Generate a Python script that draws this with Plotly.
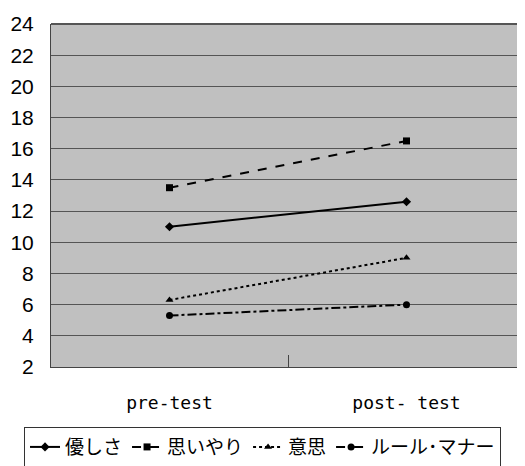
import plotly.graph_objects as go

categories = ["pre-test", "post- test"]
series_names = ["優しさ", "思いやり", "意思", "ルール･マナー"]
yasashisa = [11.0, 12.6]
omoiyari = [13.5, 16.5]
ishi = [6.3, 9.0]
rule_manner = [5.3, 6.0]
y_ticks = list(range(2, 25, 2))

series_values = [yasashisa, omoiyari, ishi, rule_manner]
dashes = ["solid", "dash", "dot", "dashdot"]
symbols = ["diamond", "square", "triangle-up", "circle"]

fig = go.Figure()
for name, vals, dash, sym in zip(series_names, series_values, dashes, symbols):
    fig.add_trace(go.Scatter(
        x=categories, y=vals, name=name, mode="lines+markers",
        line=dict(color="black", width=2, dash=dash),
        marker=dict(symbol=sym, size=7, color="black"),
    ))

# page body has an 8px margin in the browser, so the figure is 8px smaller
fig.update_layout(
    width=517, height=458,
    margin=dict(l=43, r=0, t=16, b=99, autoexpand=False),
    paper_bgcolor="white", plot_bgcolor="#C0C0C0",
    showlegend=True,
    legend=dict(
        orientation="h", xref="container", x=0.031, xanchor="left",
        yref="container", y=0.085, yanchor="top",
        bgcolor="white", bordercolor="#333333", borderwidth=1,
        font=dict(family="Noto Sans CJK JP", size=19, color="black"),
        itemwidth=30, tracegroupgap=0,
    ),
)
fig.update_xaxes(
    type="category", range=[-0.5, 1.5], automargin=False,
    showgrid=False, showline=True, linecolor="#444444", linewidth=1,
    ticks="inside", tickson="boundaries", ticklen=12, tickcolor="#444444",
    ticklabelstandoff=19,
    tickfont=dict(family="DejaVu Sans Mono", size=18, color="black"),
)
fig.update_yaxes(
    range=[2, 24], tickvals=y_ticks, ticktext=[str(v) for v in y_ticks],
    automargin=False,
    showgrid=True, gridcolor="#555555", gridwidth=1,
    showline=True, linecolor="#444444", linewidth=1, mirror=False,
    ticks="", ticklabelstandoff=12, zeroline=False,
    tickfont=dict(family="Liberation Sans", size=21, color="black"),
)
fig.add_shape(type="line", xref="paper", yref="paper", x0=0, x1=1, y0=1, y1=1,
              line=dict(color="#555555", width=2))

fig.write_html("out.html")
